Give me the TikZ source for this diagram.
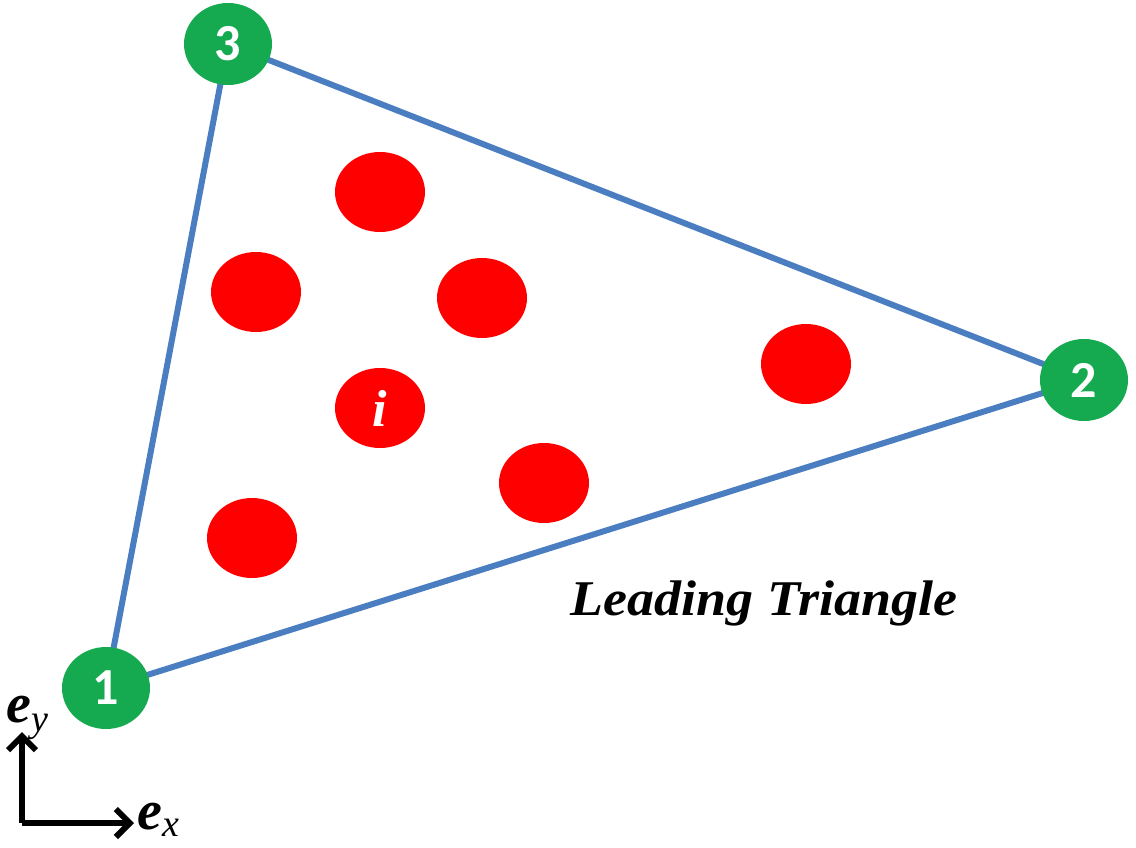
\documentclass[tikz,border=0pt]{standalone}
\usepackage{fontspec}
\setmainfont{Liberation Serif}
\newfontfamily\numfont{Carlito}
\usetikzlibrary{shapes.geometric,arrows.meta}
\definecolor{edgeblue}{RGB}{74,126,193}
\definecolor{vgreen}{RGB}{22,170,80}
\definecolor{pred}{RGB}{255,0,0}
\begin{document}
\begin{tikzpicture}[x=1pt,y=-1pt,
 vertex/.style={ellipse,fill=vgreen,minimum width=88pt,minimum height=82pt,inner sep=0pt,text=white,font=\numfont\bfseries\fontsize{52}{52}\selectfont},
 particle/.style={ellipse,fill=pred,minimum width=90pt,minimum height=80pt,inner sep=0pt,text=white,font=\bfseries\itshape\fontsize{52}{52}\selectfont},
 edge/.style={draw=edgeblue,line width=6pt},
 axis/.style={draw=black,line width=6pt,-{Straight Barb[length=14pt,width=28pt]}},
 lbl/.style={inner sep=0pt,font=\bfseries\itshape\fontsize{50}{50}\selectfont},
 axlbl/.style={inner sep=0pt,anchor=base west}
]
\useasboundingbox (0,0) rectangle (1136,848);
\coordinate (c1) at (106,688);
\coordinate (c2) at (1084,380);
\coordinate (c3) at (228,44);
\draw[edge] (c1) -- (c2) -- (c3) -- cycle;
\node[vertex] (n1) at (c1) {1};
\node[vertex] (n2) at (c2) {2};
\node[vertex] (n3) at (c3) {3};
\node[particle] (p1) at (380,192) {};
\node[particle] (p2) at (256,292) {};
\node[particle] (p3) at (482,298) {};
\node[particle] (p4) at (806,364) {};
\node[particle] (p5) at (380,408) {i};
\node[particle] (p6) at (544,483) {};
\node[particle] (p7) at (252,538) {};
\node[lbl,xscale=1.08] (title) at (764,603) {Leading Triangle};
\coordinate (o) at (22,823);
\coordinate (ey) at (22,732);
\coordinate (ex) at (134,823);
\draw[axis] (o) -- (ey);
\draw[axis] (o) -- (ex);
\node[axlbl] (eylbl) at (6,722) {\fontsize{56}{56}\selectfont\bfseries\itshape e\fontsize{38}{38}\selectfont\mdseries\raisebox{-9pt}{y}};
\node[axlbl] (exlbl) at (137,829) {\fontsize{56}{56}\selectfont\bfseries\itshape e\fontsize{38}{38}\selectfont\mdseries\raisebox{-7pt}{x}};
\end{tikzpicture}
\end{document}
